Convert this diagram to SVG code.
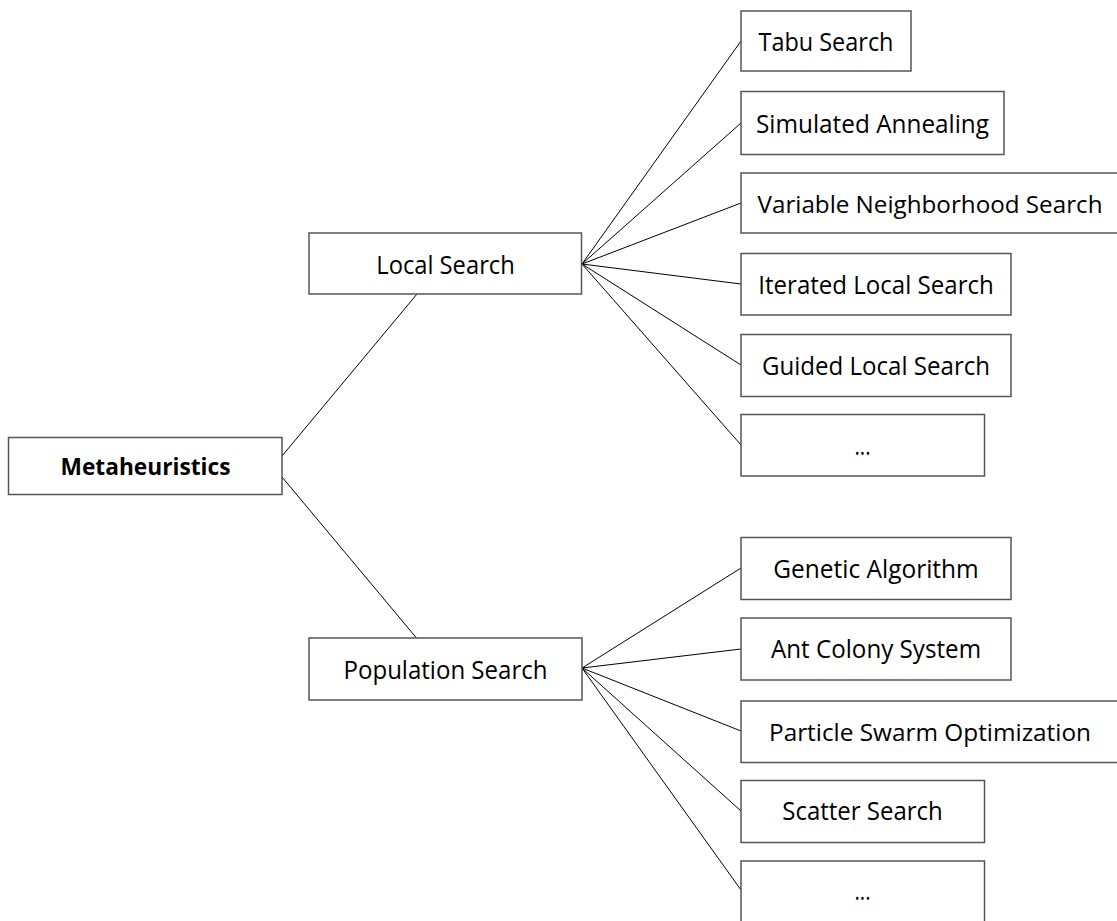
<svg xmlns="http://www.w3.org/2000/svg" width="1117" height="921" viewBox="0 0 1117 921">
<style>
.box{fill:#fff;stroke:#555;stroke-width:1.5}
.t{font-family:"Open Sans","Liberation Sans",sans-serif;font-size:26px;fill:#000;text-anchor:middle}
.b{font-weight:bold;font-size:24px}
.s{font-size:24.5px}
.c line{stroke:#000;stroke-width:1}
</style>
<rect width="1117" height="921" fill="#fff"/>
<g id="connectors" class="c">
<line x1="282" y1="456" x2="417" y2="294"/>
<line x1="282" y1="477" x2="416.5" y2="638"/>
<line x1="582" y1="264" x2="741" y2="41"/>
<line x1="582" y1="264" x2="741" y2="123"/>
<line x1="582" y1="264" x2="741" y2="203"/>
<line x1="582" y1="264" x2="741" y2="284"/>
<line x1="582" y1="264" x2="741" y2="365"/>
<line x1="582" y1="264" x2="741" y2="445"/>
<line x1="582" y1="668" x2="741" y2="568"/>
<line x1="582" y1="668" x2="741" y2="649"/>
<line x1="582" y1="668" x2="741" y2="731"/>
<line x1="582" y1="668" x2="741" y2="811"/>
<line x1="582" y1="668" x2="741" y2="890"/>
</g>
<g id="n-metaheuristics"><rect class="box" x="8.5" y="437.5" width="273.5" height="57"/><text class="t b" x="145.5" y="475" textLength="170" lengthAdjust="spacingAndGlyphs">Metaheuristics</text></g>
<g id="n-local"><rect class="box" x="309" y="233" width="272.5" height="61"/><text class="t" x="445.5" y="273.5" textLength="138.5" lengthAdjust="spacingAndGlyphs">Local Search</text></g>
<g id="n-population"><rect class="box" x="309" y="638" width="273" height="62"/><text class="t" x="445.5" y="679" textLength="204" lengthAdjust="spacingAndGlyphs">Population Search</text></g>
<g id="n-tabu"><rect class="box" x="741" y="11" width="170" height="60"/><text class="t" x="826" y="51" textLength="135" lengthAdjust="spacingAndGlyphs">Tabu Search</text></g>
<g id="n-sa"><rect class="box" x="741" y="91.5" width="263" height="63"/><text class="t" x="872.5" y="133" textLength="233" lengthAdjust="spacingAndGlyphs">Simulated Annealing</text></g>
<g id="n-vns"><rect class="box" x="741" y="173" width="378" height="60"/><text class="t s" x="930" y="212.5" textLength="345" lengthAdjust="spacingAndGlyphs">Variable Neighborhood Search</text></g>
<g id="n-ils"><rect class="box" x="741" y="253.5" width="270" height="61.5"/><text class="t" x="876" y="294" textLength="235.5" lengthAdjust="spacingAndGlyphs">Iterated Local Search</text></g>
<g id="n-gls"><rect class="box" x="741" y="334.5" width="270" height="62"/><text class="t" x="876" y="375" textLength="228" lengthAdjust="spacingAndGlyphs">Guided Local Search</text></g>
<g id="n-local-more"><rect class="box" x="741" y="414.5" width="243.5" height="61.5"/><text class="t" x="862.5" y="455" textLength="16" lengthAdjust="spacingAndGlyphs">...</text></g>
<g id="n-ga"><rect class="box" x="741" y="537.5" width="270" height="62"/><text class="t" x="876" y="577.5" textLength="205.5" lengthAdjust="spacingAndGlyphs">Genetic Algorithm</text></g>
<g id="n-acs"><rect class="box" x="741" y="618" width="270" height="62"/><text class="t" x="876" y="658" textLength="210" lengthAdjust="spacingAndGlyphs">Ant Colony System</text></g>
<g id="n-pso"><rect class="box" x="741" y="701" width="378" height="61.5"/><text class="t s" x="930" y="740.5" textLength="322" lengthAdjust="spacingAndGlyphs">Particle Swarm Optimization</text></g>
<g id="n-ss"><rect class="box" x="741" y="780.5" width="243.5" height="62"/><text class="t" x="862.5" y="820" textLength="160.5" lengthAdjust="spacingAndGlyphs">Scatter Search</text></g>
<g id="n-pop-more"><rect class="box" x="741" y="861" width="243.5" height="62"/><text class="t" x="862.5" y="900" textLength="16" lengthAdjust="spacingAndGlyphs">...</text></g>
</svg>
